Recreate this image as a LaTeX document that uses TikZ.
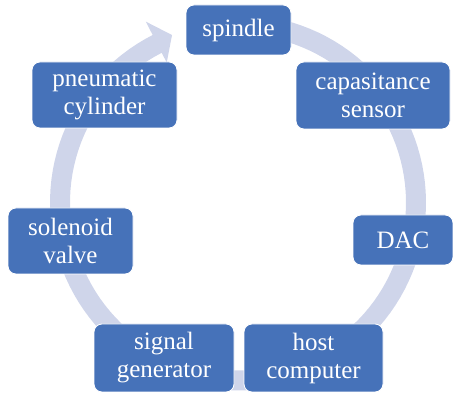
\documentclass[tikz,border=0pt]{standalone}
\usepackage{fontspec}
\setmainfont{Liberation Serif}
\newfontfamily\boxfont{Liberation Serif}
\definecolor{boxblue}{RGB}{70,114,185}
\definecolor{ringblue}{RGB}{207,213,234}
\begin{document}
\begin{tikzpicture}[x=1pt,y=-1pt,
  stage/.style={draw=white, line width=0.8pt, fill=boxblue, rounded corners=8pt,
    text=white, font=\boxfont\fontsize{25}{28}\selectfont, align=center, inner sep=0pt}]
\useasboundingbox (0,0) rectangle (453,395);
\begin{scope}[shift={(238,202.5)}]
  \fill[ringblue] plot[domain=270:603,samples=120] (\x:188)
    -- (603:203) -- (608.5:180) -- (603:157)
    -- plot[domain=603:270,samples=120] (\x:168) -- cycle;
\end{scope}
\node[stage, minimum width=105pt, minimum height=50pt] (spindle) at (238.5,30) {spindle};
\node[stage, minimum width=154pt, minimum height=67pt] (sensor) at (373,95.5) {capasitance\\sensor};
\node[stage, minimum width=100pt, minimum height=50pt] (dac) at (403,240) {DAC};
\node[stage, minimum width=139pt, minimum height=68pt] (host) at (313.5,358) {host\\computer};
\node[stage, minimum width=140pt, minimum height=68pt] (signal) at (164,358) {signal\\generator};
\node[stage, minimum width=125pt, minimum height=66pt] (valve) at (70.5,241) {solenoid\\valve};
\node[stage, minimum width=145pt, minimum height=66pt] (cyl) at (104.5,95) {pneumatic\\cylinder};
\end{tikzpicture}
\end{document}
